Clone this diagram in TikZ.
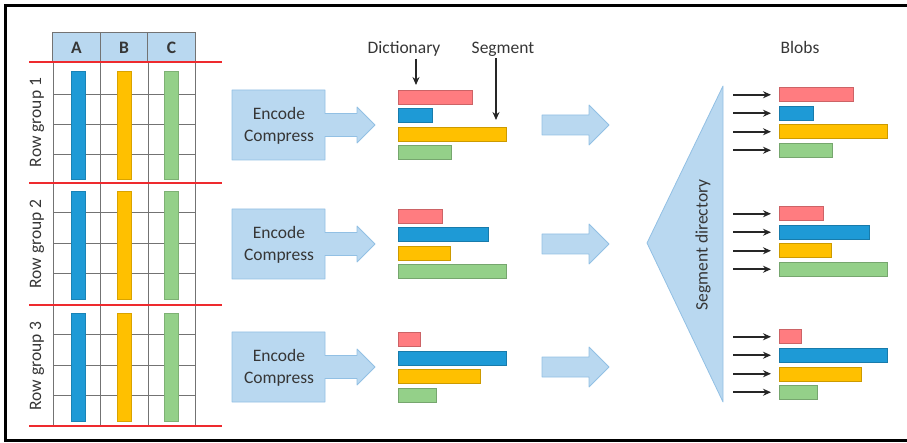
\documentclass[tikz,border=0pt]{standalone}
\usepackage{fontspec}
\setmainfont{Carlito}
\usepackage{xcolor}
\usetikzlibrary{positioning, arrows.meta}

\definecolor{segred}{HTML}{FF7C80}
\definecolor{segblue}{HTML}{1E9AD6}
\definecolor{segyellow}{HTML}{FFC000}
\definecolor{seggreen}{HTML}{94D089}
\definecolor{lightblue}{HTML}{B9D8F0}
\definecolor{edgeblue}{HTML}{92C0E4}
\definecolor{rowred}{HTML}{EE2A2E}
\definecolor{textgray}{HTML}{363636}

\begin{document}
\begin{tikzpicture}[x=1pt, y=-1pt, font=\fontsize{17.5}{21.5}\selectfont, text=textgray,
	bar/.style={draw=#1!80!black, line width=0.5pt, fill=#1, minimum height=14pt, inner sep=0pt, anchor=north west},
	colbar/.style={draw=#1!85!black, line width=0.5pt, fill=#1, minimum width=14pt, minimum height=108pt, inner sep=0pt, anchor=north},
	hdr/.style={draw=gray!90!black, line width=1pt, fill=lightblue, minimum width=47.5pt, minimum height=29pt, inner sep=0pt},
	gridline/.style={gray!90!black, line width=1pt},
	groupline/.style={rowred, line width=1.6pt},
	blockarrow/.style={fill=lightblue, draw=edgeblue, line width=0.8pt, line join=round},
	ptr/.style={-{Stealth[length=8pt, width=7pt]}, line width=1.9pt, black!85}]
	\useasboundingbox (0,0) rectangle (907,443);

	% Draw the frame (open on the right)
	\draw[line width=2.8pt] (910,5.5) -- (5.5,5.5) -- (5.5,440.5) -- (910,440.5);

	% Draw the "Table" (columns A, B, C cut into row groups)
	\foreach \col/\xc in {A/76.5, B/124, C/171.5}
		\node[hdr] (hdr-\col) at (\xc,47.5) {\textbf{\col}};
	\foreach \x in {53,100,148,195}
		\draw[gridline] (\x,62) -- (\x,426);
	\foreach \y in {95,125,155,213,244,274,335,365,395}
		\draw[gridline] (53,\y) -- (195,\y);
	\foreach \g/\top/\mid in {1/71/122.5, 2/191/244, 3/313/366} {
		\node[colbar=segblue] (colA-\g) at (78,\top) {};
		\node[colbar=segyellow] (colB-\g) at (124.5,\top) {};
		\node[colbar=seggreen] (colC-\g) at (171,\top) {};
		\node[rotate=90] (rowgroup-\g) at (37,\mid) {Row group \g};
	}
	\foreach \y in {62,183,305,426}
		\draw[groupline] (29,\y) -- (222,\y);

	% Draw the "Encode" steps, the segments and the blobs
	\foreach \g/\yc/\bars in {1/125/{74/segred,34/segblue,108/segyellow,53/seggreen},
			2/244/{44/segred,90/segblue,52/segyellow,108/seggreen},
			3/367/{22/segred,108/segblue,82/segyellow,38/seggreen}} {
		\draw[blockarrow] (232,\yc-35) -- (325,\yc-35) -- (325,\yc-11.5) -- (357,\yc-11.5) -- (357,\yc-18)
			-- (375,\yc) -- (357,\yc+18) -- (357,\yc+11.5) -- (325,\yc+11.5) -- (325,\yc+35) -- (232,\yc+35) -- cycle;
		\node[align=center] (encode-\g) at (279,\yc+1) {Encode\\Compress};
		\draw[blockarrow] (542,\yc-10) -- (589,\yc-10) -- (589,\yc-20) -- (609,\yc) -- (589,\yc+20) -- (589,\yc+10)
			-- (542,\yc+10) -- cycle;
		\foreach \w/\c [count=\k] in \bars {
			\node[bar=\c, minimum width=\w pt] (seg-\g-\k) at (398,\yc-35+18.5*\k-18.5) {};
			\node[bar=\c, minimum width=\w pt] (blob-\g-\k) at (779,\yc-37.5+18.5*\k-18.5) {};
			\coordinate (src-\g-\k) at ([xshift=-46pt]blob-\g-\k.west);
			\draw[ptr] (src-\g-\k) -- ([xshift=-8pt]blob-\g-\k.west);
		}
	}

	% Labels on top
	\node[inner sep=2pt] (dict) at (404,49) {Dictionary};
	\node[inner sep=2pt] (seglabel) at (503,49) {Segment};
	\node (blobs) at (800,47) {Blobs};
	\draw[ptr] ([xshift=12pt]dict.south) -- ([xshift=18pt, yshift=5pt]seg-1-1.north west);
	\draw[ptr] ([xshift=-7pt]seglabel.south) -- ([xshift=98pt, yshift=7pt]seg-1-3.north west);

	% Draw the segment directory
	\draw[blockarrow] (647,243) -- (723,86) -- (723,402) -- cycle;
	\node[rotate=90] (segdir) at (703,245) {Segment directory};
\end{tikzpicture}
\end{document}
